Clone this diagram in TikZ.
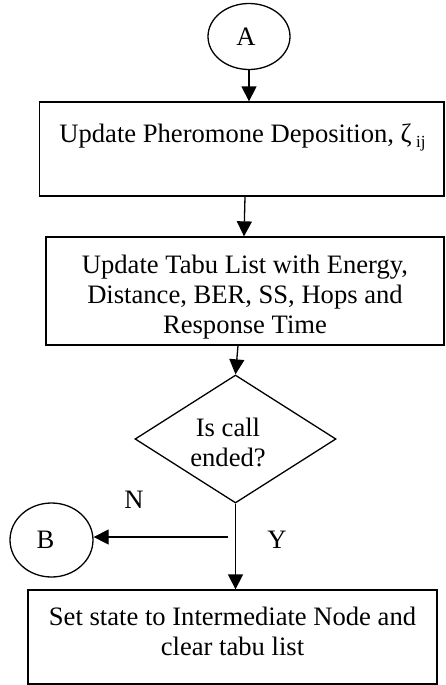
\documentclass[tikz,border=0pt]{standalone}
\usepackage{fontspec}
\setmainfont{Liberation Serif}
\usetikzlibrary{shapes.geometric,arrows.meta}
\begin{document}
\begin{tikzpicture}[x=1pt,y=-1pt,
  every node/.style={font=\fontsize{26.6}{30}\selectfont},
  ln/.style={line width=1.3pt},
  boxshape/.style={draw,line width=1.3pt,rectangle,inner sep=0pt},
  ell/.style={draw,line width=1.3pt,ellipse,inner sep=0pt},
  arr/.style={line width=1.3pt,-{Triangle[length=15pt,width=15pt]}}
]
\useasboundingbox (0,0) rectangle (445,685);
\node[ell,minimum width=82,minimum height=66,label={[xshift=-3pt]center:A}] (A) at (249,36.5) {};
\node[boxshape,minimum width=404.5,minimum height=94] (b1) at (241.75,149) {};
\node[anchor=base] (t1) at (242.5,142) {Update Pheromone Deposition, ζ\,\raisebox{-5pt}{\fontsize{17}{17}\selectfont ij}};
\node[boxshape,minimum width=398,minimum height=108] (b2) at (245,291) {};
\node[align=center] (t2) at (245,296.8) {Update Tabu List with Energy,\\Distance, BER, SS, Hops and\\Response Time};
\node[diamond,draw,ln,minimum width=201,minimum height=128,inner sep=0pt,aspect=1.57] (d) at (235.5,439) {};
\node[align=center] (td) at (228,442.8) {Is call\\ended?};
\node[ell,minimum width=83,minimum height=74,label={[xshift=-6pt]center:B}] (B) at (51.5,540) {};
\node[boxshape,minimum width=409,minimum height=94] (b3) at (232.5,637) {};
\node[align=center] (t3) at (232.5,631) {Set state to Intermediate Node and\\clear tabu list};
\node[anchor=base] (N) at (134,508) {N};
\node[anchor=base] (Y) at (277,548) {Y};
\coordinate (nstart) at (228,537);
\draw[arr] (A.south) -- (A.south |- b1.north);
\draw[arr] ([xshift=3.25pt]b1.south) -- ([xshift=-1pt]b2.north);
\draw[arr] ([xshift=-7pt]b2.south) -- (d.north);
\draw[arr] (d.south) -- (d.south |- b3.north);
\draw[arr] (nstart) -- (nstart -| B.east);
\end{tikzpicture}
\end{document}
